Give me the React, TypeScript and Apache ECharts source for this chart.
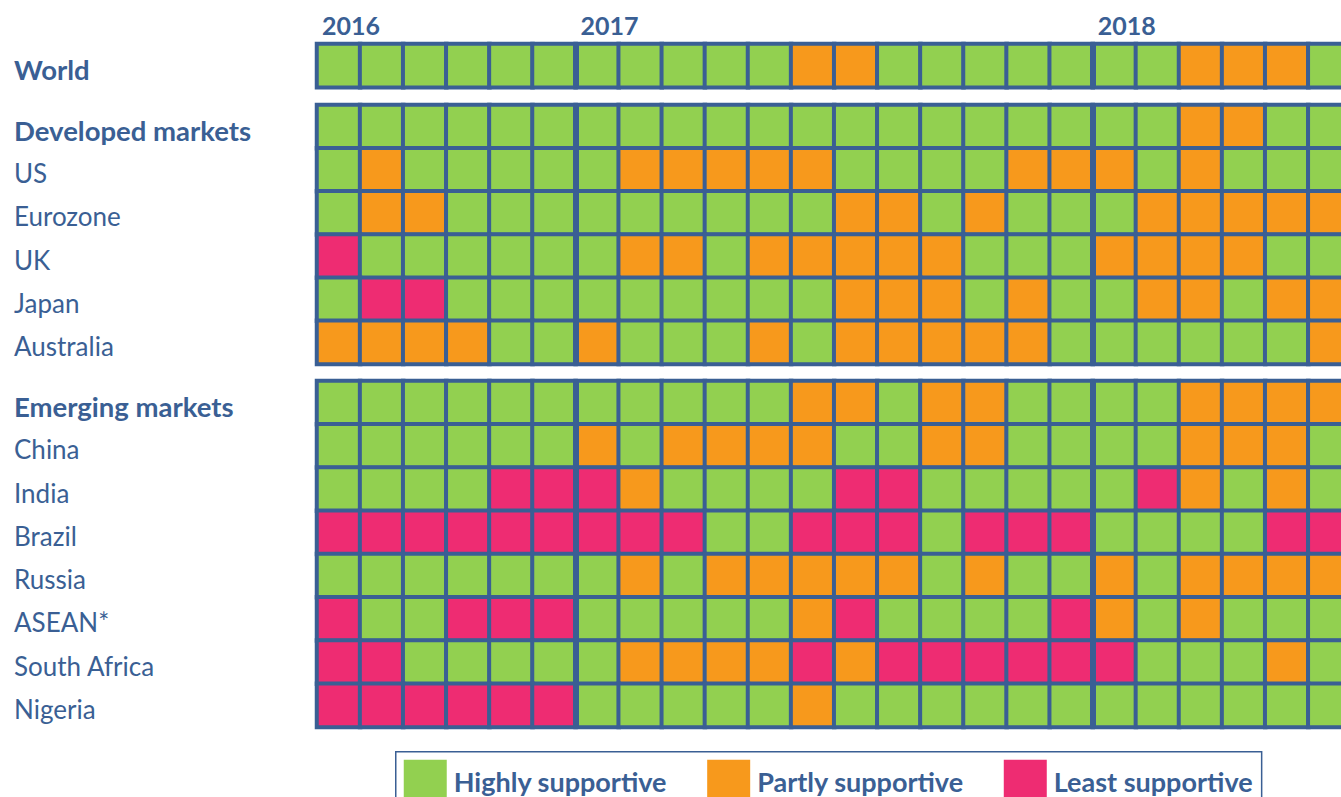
import React, { useEffect, useRef } from 'react';
import * as echarts from 'echarts';

// ---------- data ----------
const months = [
  'Jul 2016', 'Aug 2016', 'Sep 2016', 'Oct 2016', 'Nov 2016', 'Dec 2016',
  'Jan 2017', 'Feb 2017', 'Mar 2017', 'Apr 2017', 'May 2017', 'Jun 2017',
  'Jul 2017', 'Aug 2017', 'Sep 2017', 'Oct 2017', 'Nov 2017', 'Dec 2017',
  'Jan 2018', 'Feb 2018', 'Mar 2018', 'Apr 2018', 'May 2018', 'Jun 2018',
];
const yearStartIndex = [0, 6, 18];
const yearNames = ['2016', '2017', '2018'];

const statusLabels = ['Highly supportive', 'Partly supportive', 'Least supportive'];
const statusColors = ['#92D050', '#F7991C', '#EE2C72'];

// 0 = highly, 1 = partly, 2 = least supportive
const world = [0, 0, 0, 0, 0, 0, 0, 0, 0, 0, 0, 1, 1, 0, 0, 0, 0, 0, 0, 0, 1, 1, 1, 0];

const developedMarkets = [0, 0, 0, 0, 0, 0, 0, 0, 0, 0, 0, 0, 0, 0, 0, 0, 0, 0, 0, 0, 1, 1, 0, 0];
const us = [0, 1, 0, 0, 0, 0, 0, 1, 1, 1, 1, 1, 0, 0, 0, 0, 1, 1, 1, 0, 1, 0, 0, 0];
const eurozone = [0, 1, 1, 0, 0, 0, 0, 0, 0, 0, 0, 0, 1, 1, 0, 1, 0, 0, 0, 1, 1, 1, 1, 1];
const uk = [2, 0, 0, 0, 0, 0, 0, 1, 1, 0, 1, 1, 1, 1, 1, 0, 0, 0, 1, 1, 1, 1, 0, 0];
const japan = [0, 2, 2, 0, 0, 0, 0, 0, 0, 0, 0, 0, 1, 1, 1, 0, 1, 0, 0, 1, 1, 0, 1, 1];
const australia = [1, 1, 1, 1, 0, 0, 1, 0, 0, 0, 1, 0, 1, 1, 1, 1, 1, 0, 0, 0, 0, 0, 0, 1];

const emergingMarkets = [0, 0, 0, 0, 0, 0, 0, 0, 0, 0, 0, 1, 1, 0, 1, 1, 0, 0, 0, 0, 1, 1, 1, 1];
const china = [0, 0, 0, 0, 0, 0, 1, 0, 1, 1, 1, 1, 0, 0, 1, 1, 0, 0, 0, 0, 1, 1, 1, 0];
const india = [0, 0, 0, 0, 2, 2, 2, 1, 0, 0, 0, 0, 2, 2, 0, 0, 0, 0, 0, 2, 1, 0, 1, 0];
const brazil = [2, 2, 2, 2, 2, 2, 2, 2, 2, 0, 0, 2, 2, 2, 0, 2, 2, 2, 0, 0, 0, 0, 2, 2];
const russia = [0, 0, 0, 0, 0, 0, 0, 1, 0, 1, 1, 1, 1, 1, 0, 1, 0, 0, 1, 0, 1, 1, 1, 1];
const asean = [2, 0, 0, 2, 2, 2, 0, 0, 0, 0, 0, 1, 2, 0, 0, 0, 0, 2, 1, 0, 1, 0, 0, 0];
const southAfrica = [2, 2, 0, 0, 0, 0, 0, 1, 1, 1, 1, 2, 1, 2, 2, 2, 2, 2, 2, 0, 0, 0, 1, 0];
const nigeria = [2, 2, 2, 2, 2, 2, 0, 0, 0, 0, 0, 1, 0, 0, 0, 0, 0, 0, 0, 0, 0, 0, 0, 0];

const worldRows = ['World'];
const worldValues = [world];
const developedRows = ['Developed markets', 'US', 'Eurozone', 'UK', 'Japan', 'Australia'];
const developedValues = [developedMarkets, us, eurozone, uk, japan, australia];
const emergingRows = ['Emerging markets', 'China', 'India', 'Brazil', 'Russia', 'ASEAN*', 'South Africa', 'Nigeria'];
const emergingValues = [emergingMarkets, china, india, brazil, russia, asean, southAfrica, nigeria];

// ---------- styling ----------
const TEXT = '#3A5F94';
const BORDER = '#3A5F94';
const FONT = 'Lato';
const GRID_LEFT = 317;
const GRID_WIDTH = 1034.4;

const blocks = [
  { rows: worldRows, values: worldValues, top: 44, height: 43.3 },
  { rows: developedRows, values: developedValues, top: 105, height: 259 },
  { rows: emergingRows, values: emergingValues, top: 381, height: 346 },
];

const rowLabelStyle = {
  align: 'left',
  verticalAlign: 'top',
  lineHeight: 7,
  color: TEXT,
  fontFamily: FONT,
  fontSize: 26,
};

function buildOption() {
  const grid = blocks.map((b) => ({
    left: GRID_LEFT,
    width: GRID_WIDTH,
    top: b.top,
    height: b.height,
    containLabel: false,
    outerBoundsMode: 'none',
  }));

  const xAxis: any[] = blocks.map((_, i) => ({
    type: 'category',
    gridIndex: i,
    data: months,
    z: 10,
    axisLine: { show: false },
    axisTick: { show: false },
    axisLabel: { show: false },
    splitLine: {
      show: true,
      interval: (idx: number) => idx === 6 || idx === 18,
      lineStyle: { color: BORDER, width: 6 },
    },
  }));
  // year labels on top of the World row
  xAxis.push({
    type: 'value',
    gridIndex: 0,
    position: 'top',
    min: 0,
    max: months.length,
    interval: 6,
    axisLine: { show: false },
    axisTick: { show: false },
    splitLine: { show: false },
    axisLabel: {
      margin: 7,
      align: 'left',
      padding: [0, 0, 0, 5],
      color: TEXT,
      fontFamily: FONT,
      fontWeight: 'bold',
      fontSize: 25,
      formatter: (v: number) => {
        const k = yearStartIndex.indexOf(v);
        return k >= 0 ? yearNames[k] : '';
      },
    },
  });

  const yAxis = blocks.map((b, i) => ({
    type: 'category',
    gridIndex: i,
    inverse: true,
    data: b.rows.map((name, j) =>
      j === 0
        ? { value: name, textStyle: { ...rowLabelStyle, fontWeight: 'bold', fontSize: 27.5 } }
        : name
    ),
    axisLine: { show: false },
    axisTick: { show: false },
    splitLine: { show: false },
    axisLabel: { ...rowLabelStyle, margin: GRID_LEFT - 14 },
  }));

  const series = blocks.map((b, i) => {
    const data: number[][] = [];
    b.values.forEach((row, r) => row.forEach((v, c) => data.push([c, r, v])));
    return {
      type: 'heatmap',
      xAxisIndex: i,
      yAxisIndex: i,
      data,
      itemStyle: { borderColor: BORDER, borderWidth: 4 },
      emphasis: { disabled: true },
    };
  });

  return {
    animation: false,
    backgroundColor: '#ffffff',
    grid,
    xAxis,
    yAxis,
    visualMap: {
      type: 'piecewise',
      dimension: 2,
      orient: 'horizontal',
      left: 395,
      top: 751,
      align: 'left',
      itemSymbol: 'rect',
      itemWidth: 43,
      itemHeight: 43,
      itemGap: 40,
      textGap: 7,
      selectedMode: false,
      borderColor: BORDER,
      borderWidth: 1.5,
      padding: [8, 9, 8, 8],
      textStyle: { color: TEXT, fontFamily: FONT, fontWeight: 'bold', fontSize: 27 },
      pieces: statusLabels.map((label, i) => ({ value: i, label, color: statusColors[i] })),
    },
    series,
  };
}

export default function App() {
  const ref = useRef<HTMLDivElement>(null);
  useEffect(() => {
    document.body.style.margin = '0';
    const chart = echarts.init(ref.current!, undefined, { renderer: 'svg' });
    chart.setOption(buildOption() as any);
    return () => chart.dispose();
  }, []);
  return <div ref={ref} style={{ width: 1341, height: 797 }} />;
}
